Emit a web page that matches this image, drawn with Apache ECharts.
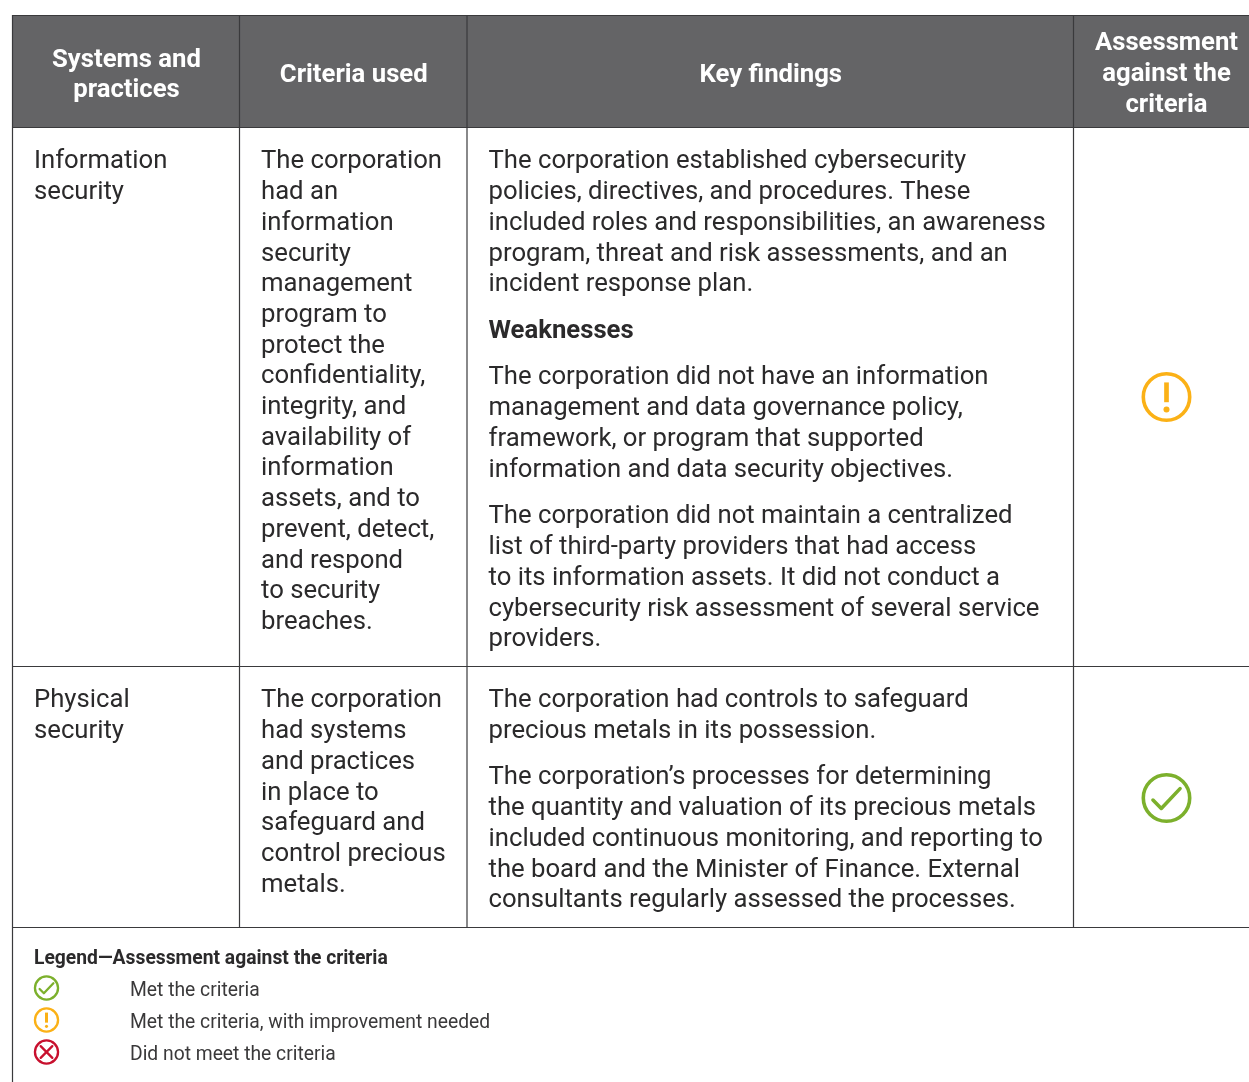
<!DOCTYPE html>
<html>
<head>
<meta charset="utf-8">
<style>
  html, body { margin: 0; padding: 0; background: #fff; }
  #main { width: 1249px; height: 1082px; }
</style>
<script src="https://cdn.jsdelivr.net/npm/echarts@6/dist/echarts.min.js"></script>
</head>
<body>
<div id="main"></div>
<script>
// table content
var headers = [
  ['Systems and', 'practices'],
  ['Criteria used'],
  ['Key findings'],
  ['Assessment', 'against the', 'criteria']
];
var systems1 = ['Information', 'security'];
var criteria1 = ['The corporation', 'had an', 'information', 'security', 'management', 'program to', 'protect the',
  'confidentiality,', 'integrity, and', 'availability of', 'information', 'assets, and to', 'prevent, detect,',
  'and respond', 'to security', 'breaches.'];
var findings1a = ['The corporation established cybersecurity', 'policies, directives, and procedures. These',
  'included roles and responsibilities, an awareness', 'program, threat and risk assessments, and an',
  'incident response plan.'];
var weaknessTitle = 'Weaknesses';
var findings1b = ['The corporation did not have an information', 'management and data governance policy,',
  'framework, or program that supported', 'information and data security objectives.'];
var findings1c = ['The corporation did not maintain a centralized', 'list of third-party providers that had access',
  'to its information assets. It did not conduct a', 'cybersecurity risk assessment of several service', 'providers.'];
var systems2 = ['Physical', 'security'];
var criteria2 = ['The corporation', 'had systems', 'and practices', 'in place to', 'safeguard and', 'control precious', 'metals.'];
var findings2a = ['The corporation had controls to safeguard', 'precious metals in its possession.'];
var findings2b = ['The corporation\u2019s processes for determining', 'the quantity and valuation of its precious metals',
  'included continuous monitoring, and reporting to', 'the board and the Minister of Finance. External',
  'consultants regularly assessed the processes.'];
var legendTitle = 'Legend\u2014Assessment against the criteria';
var legendLabels = ['Met the criteria', 'Met the criteria, with improvement needed', 'Did not meet the criteria'];
var legendIcons = ['met', 'partly', 'notMet'];

var FONT = 'Roboto';
var INK = '#2b2a2b';
var LINE = '#3a3a3c';
var HEAD_BG = '#646466';
var ICON_COLOR = { met: '#7cb02c', partly: '#fbb116', notMet: '#c8102e' };
var LINE_H = 30.7;
var BODY_SIZE = 25.7;
var colX = [12.5, 239.5, 467, 1073.5, 1249];
var tableTop = 15, headBottom = 127.5, row1Bottom = 666.5, row2Bottom = 927.5;

var g = [];

function rule(x1, y1, x2, y2, w, color) {
  g.push({ type: 'line', z: 5, shape: { x1: x1, y1: y1, x2: x2, y2: y2 },
    style: { stroke: color || LINE, lineWidth: w || 1 } });
}
function label(str, x, y, size, weight, color, align) {
  g.push({ type: 'text', z: 10, x: x, y: y, style: {
    text: str, font: (weight || 400) + ' ' + size + 'px ' + FONT, fill: color || INK,
    align: align || 'left', verticalAlign: 'middle' } });
}
function block(lines, x, y) {
  lines.forEach(function (l, i) { label(l, x, y + i * LINE_H, BODY_SIZE); });
}
function icon(kind, cx, cy, r, w) {
  var c = ICON_COLOR[kind];
  var s = r / 24;
  g.push({ type: 'circle', z: 10, shape: { cx: cx, cy: cy, r: r - w / 2 },
    style: { fill: '#fff', stroke: c, lineWidth: w } });
  if (kind === 'met') {
    g.push({ type: 'polyline', z: 11, shape: { points: [[cx - 13 * s, cy + 2 * s], [cx - 5 * s, cy + 10 * s], [cx + 13 * s, cy - 9 * s]] },
      style: { stroke: c, lineWidth: w, fill: 'none', lineCap: 'round', lineJoin: 'round' } });
  } else if (kind === 'partly') {
    g.push({ type: 'line', z: 11, shape: { x1: cx, y1: cy - 14 * s, x2: cx, y2: cy + 5 * s },
      style: { stroke: c, lineWidth: w * 1.3, lineCap: 'butt' } });
    g.push({ type: 'circle', z: 11, shape: { cx: cx, cy: cy + 12 * s, r: 2.9 * s }, style: { fill: c } });
  } else {
    var d = 11 * s;
    g.push({ type: 'line', z: 11, shape: { x1: cx - d, y1: cy - d, x2: cx + d, y2: cy + d }, style: { stroke: c, lineWidth: w, lineCap: 'round' } });
    g.push({ type: 'line', z: 11, shape: { x1: cx - d, y1: cy + d, x2: cx + d, y2: cy - d }, style: { stroke: c, lineWidth: w, lineCap: 'round' } });
  }
}

// header band
g.push({ type: 'rect', z: 1, shape: { x: colX[0], y: tableTop, width: colX[4] - colX[0], height: headBottom - tableTop }, style: { fill: HEAD_BG } });
headers.forEach(function (lines, i) {
  var cx = i === 3 ? 1166.5 : (colX[i] + colX[i + 1]) / 2 + 0.5;
  var step = i === 3 ? 31 : 30;
  var mid = i === 3 ? 75 : 76;
  lines.forEach(function (l, j) {
    label(l, cx, mid + (j - (lines.length - 1) / 2) * step, 25.7, 700, '#fff', 'center');
  });
});

// grid
rule(colX[0], tableTop + 0.5, colX[4], tableTop + 0.5, 1.2);
rule(colX[0], headBottom, colX[4], headBottom, 1.2);
rule(colX[0], row1Bottom, colX[4], row1Bottom, 1.2);
rule(colX[0], row2Bottom, colX[4], row2Bottom, 1.2);
rule(colX[0], tableTop, colX[0], 1082, 1.2);
[1, 2, 3].forEach(function (i) { rule(colX[i], tableTop, colX[i], row2Bottom, 1.2); });

// first row
block(systems1, 34, 162);
block(criteria1, 261, 162);
block(findings1a, 488.5, 162);
label(weaknessTitle, 488.5, 332, BODY_SIZE, 700);
block(findings1b, 488.5, 378);
block(findings1c, 488.5, 517);
icon('partly', 1166.5, 397, 25, 3.6);

// second row
block(systems2, 34, 701);
block(criteria2, 261, 701);
block(findings2a, 488.5, 701);
block(findings2b, 488.5, 778);
icon('met', 1166.5, 798, 25, 3.6);

// legend
label(legendTitle, 34, 959, 19.3, 700);
legendLabels.forEach(function (l, i) {
  var y = 990 + i * 32;
  icon(legendIcons[i], 46.5, y - 2, 12.7, 2.3);
  label(l, 130, y + 1, 19.3, 400, '#3a393a');
});

var chart = echarts.init(document.getElementById('main'), null, { renderer: 'canvas' });
chart.setOption({ animation: false, backgroundColor: '#fff', graphic: { elements: g } });
</script>
</body>
</html>
